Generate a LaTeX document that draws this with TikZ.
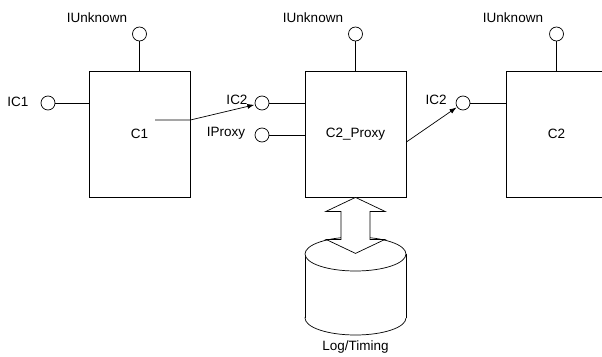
\documentclass[tikz,border=0pt]{standalone}
\usepackage{fontspec}
\setmainfont{Liberation Sans}
\usetikzlibrary{arrows.meta, positioning, calc}
\tikzset{
	comp/.style={draw, line width=0.8pt, minimum width=101pt, minimum height=126pt, inner sep=0pt},
	lolly/.style={draw, circle, fill=white, minimum size=14pt, inner sep=0pt, line width=0.7pt},
	wire/.style={line width=0.7pt},
	call/.style={line width=0.7pt, -{Latex[length=7pt,width=5pt]}, shorten >=0.5pt}
}
\begin{document}
\begin{tikzpicture}[x=1pt, y=-1pt, font=\fontsize{13.5}{16}\selectfont]
		\clip (0,0) rectangle (602,356);
		\node[comp] (c1) at (139.5,134) {C1};
		\node[comp] (c2p) at (355.5,134) {C2\_Proxy};
		\node[comp] (c2) at (556.5,134) {C2};

		\node[lolly] (u1) at (139.5,34) {};
		\node[lolly] (u2) at (355.5,34) {};
		\node[lolly] (u3) at (556.5,34) {};
		\node (lu1) at (97,18) {IUnknown};
		\node (lu2) at (313,18) {IUnknown};
		\node (lu3) at (513,18) {IUnknown};

		\node[lolly] (ic1) at (48,103) {};
		\node (lic1) at (18,102) {IC1};
		\node[lolly] (ic2a) at (262,103) {};
		\node (lic2a) at (237,100) {IC2};
		\node[lolly] (ip) at (262,135) {};
		\node (lip) at (226,133) {IProxy};
		\node[lolly] (ic2b) at (463,103) {};
		\node (lic2b) at (436,100) {IC2};

		\draw[wire] (u1) -- (u1 |- c1.north);
		\draw[wire] (u2) -- (u2 |- c2p.north);
		\draw[wire] (u3) -- (u3 |- c2.north);
		\draw[wire] (ic1) -- (ic1 -| c1.west);
		\draw[wire] (ic2a) -- (ic2a -| c2p.west);
		\draw[wire] (ip) -- (ip -| c2p.west);
		\draw[wire] (ic2b) -- (ic2b -| c2.west);

		\coordinate (c1in) at (155,120);
		\draw[call] (c1in) -- (c1in -| c1.east) -- (ic2a);
		\draw[call] ([yshift=-8pt]c2p.east) -- (ic2b);

		\coordinate (db) at (355.5,254);
		\coordinate (dbb) at (355.5,318);
		\draw[wire, fill=white] (dbb) ellipse[x radius=50.5pt, y radius=17pt];
		\fill[white] ($(db)+(-50.5,0)$) rectangle ($(dbb)+(50.5,0)$);
		\draw[wire] ($(db)+(-50.5,0)$) -- ($(dbb)+(-50.5,0)$);
		\draw[wire] ($(db)+(50.5,0)$) -- ($(dbb)+(50.5,0)$);
		\draw[wire, fill=white] (db) ellipse[x radius=50.5pt, y radius=17pt];
		\node (log) at (355.5,347) {Log/Timing};

		\draw[wire, fill=white] (c2p.south) -- ++(29.5,14) -- ++(-15,0) -- ++(0,28) -- ++(15,0) -- ++(-29.5,14)
			-- ++(-29.5,-14) -- ++(15,0) -- ++(0,-28) -- ++(-15,0) -- cycle;
	\end{tikzpicture}
\end{document}
